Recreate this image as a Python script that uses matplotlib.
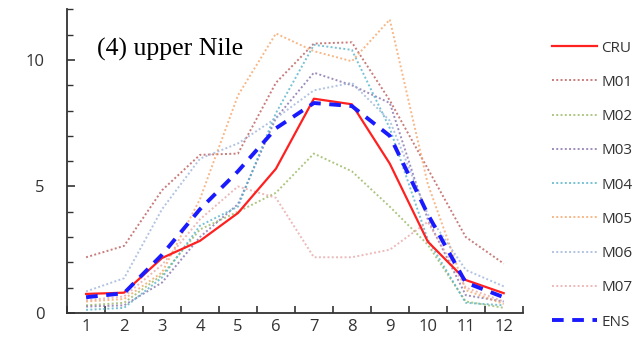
import matplotlib.pyplot as plt
import numpy as np
from matplotlib.ticker import MultipleLocator, FixedLocator, NullFormatter

months = np.arange(1, 13)

cru = [0.75, 0.80, 2.17, 2.85, 3.95, 5.70, 8.47, 8.25, 5.90, 2.82, 1.30, 0.78]
m01 = [2.20, 2.65, 4.85, 6.25, 6.30, 9.10, 10.65, 10.70, 8.40, 5.70, 3.00, 1.95]
m02 = [0.30, 0.40, 1.50, 3.30, 4.00, 4.75, 6.30, 5.60, 4.20, 2.70, 0.45, 0.20]
m03 = [0.25, 0.30, 1.20, 3.00, 4.30, 7.70, 9.50, 9.00, 8.30, 3.70, 0.70, 0.45]
m04 = [0.12, 0.20, 1.40, 3.45, 4.20, 7.90, 10.60, 10.40, 7.30, 2.90, 0.40, 0.30]
m05 = [0.45, 0.55, 1.60, 4.50, 8.60, 11.05, 10.35, 9.95, 11.60, 5.10, 0.90, 0.35]
m06 = [0.85, 1.37, 4.10, 6.10, 6.70, 7.70, 8.80, 9.10, 7.60, 3.90, 1.70, 1.05]
m07 = [0.50, 0.65, 1.90, 3.70, 5.00, 4.55, 2.20, 2.20, 2.50, 3.60, 1.00, 0.45]
ens = [0.62, 0.78, 2.30, 4.10, 5.60, 7.30, 8.30, 8.18, 7.00, 3.90, 1.20, 0.62]

models = [("M01", m01, "#b5514f"), ("M02", m02, "#93b35a"),
          ("M03", m03, "#7d68a6"), ("M04", m04, "#4aaec6"),
          ("M05", m05, "#f5a060"), ("M06", m06, "#98afd6"),
          ("M07", m07, "#e5a3a1")]

fig = plt.figure(figsize=(6.39, 3.63), dpi=100)
ax = fig.add_axes([0.105, 0.138, 0.713, 0.836])

ax.plot(months, cru, color="#ff2020", lw=1.6, label="CRU", zorder=5)
for name, vals, col in models:
    ax.plot(months, vals, color=col, lw=1.4, ls=(0, (1, 1.2)), alpha=0.75, label=name)
ax.plot(months, ens, color="#1a1aff", lw=2.8, ls=(0, (3, 2.2)), label="ENS", zorder=6)

ax.set_xlim(0.5, 12.5)
ax.set_ylim(0, 12)

# category ticks sit between months, labels sit on the months
ax.xaxis.set_major_locator(FixedLocator(np.arange(0.5, 13, 1)))
ax.xaxis.set_major_formatter(NullFormatter())
ax.xaxis.set_minor_locator(FixedLocator(months))
ax.set_xticklabels([str(m) for m in months], minor=True)
ax.tick_params(axis="x", which="major", direction="in", length=5, width=1.2, color="#333333")
ax.tick_params(axis="x", which="minor", length=0, pad=4.5, labelsize=12, labelcolor="#333333")

ax.yaxis.set_major_locator(MultipleLocator(5))
ax.yaxis.set_minor_locator(MultipleLocator(1))
ax.tick_params(axis="y", which="major", direction="in", length=6, width=1.2,
               color="#333333", labelsize=12, labelcolor="#333333", pad=16)
ax.tick_params(axis="y", which="minor", direction="in", length=4, width=1.0, color="#333333")

for s in ["top", "right"]:
    ax.spines[s].set_visible(False)
for s in ["left", "bottom"]:
    ax.spines[s].set_color("#333333")
    ax.spines[s].set_linewidth(1.3)

for lab in ax.get_xticklabels(minor=True) + ax.get_yticklabels():
    lab.set_family("Open Sans")

ax.text(0.065, 0.868, "(4) upper Nile", transform=ax.transAxes, fontsize=18.5,
        family="Liberation Serif", color="black", va="center")

leg = ax.legend(loc="upper left", bbox_to_anchor=(0.855, 0.905), bbox_transform=fig.transFigure,
                frameon=False, handlelength=2.9, handletextpad=0.3, labelspacing=1.26,
                prop={"family": "Open Sans", "size": 11}, borderaxespad=0)
for t in leg.get_texts():
    t.set_color("#333333")

fig.savefig("out.png", dpi=100)
